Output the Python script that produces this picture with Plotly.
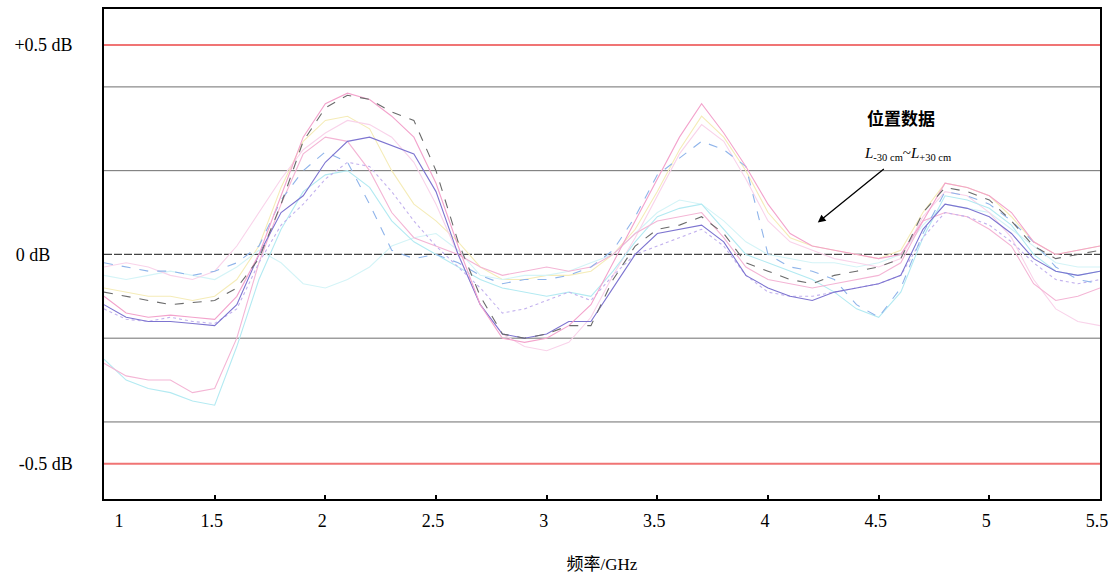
import plotly.graph_objects as go

freq = [1.0, 1.1, 1.2, 1.3, 1.4, 1.5, 1.6, 1.7, 1.8, 1.9,
        2.0, 2.1, 2.2, 2.3, 2.4, 2.5, 2.6, 2.7, 2.8, 2.9,
        3.0, 3.1, 3.2, 3.3, 3.4, 3.5, 3.6, 3.7, 3.8, 3.9,
        4.0, 4.1, 4.2, 4.3, 4.4, 4.5, 4.6, 4.7, 4.8, 4.9,
        5.0, 5.1, 5.2, 5.3, 5.4, 5.5]

s1 = [-0.09, -0.10, -0.11, -0.12, -0.115, -0.11, -0.08, -0.01, 0.12, 0.27,
      0.35, 0.38, 0.37, 0.34, 0.32, 0.20, 0.03, -0.10, -0.19, -0.20,
      -0.19, -0.17, -0.17, -0.06, 0.02, 0.06, 0.07, 0.09, 0.05, -0.02,
      -0.04, -0.06, -0.07, -0.05, -0.04, -0.03, -0.01, 0.10, 0.16, 0.15,
      0.13, 0.08, 0.02, -0.01, 0.00, 0.01]
s2 = [-0.10, -0.14, -0.15, -0.145, -0.15, -0.155, -0.10, 0.00, 0.14, 0.28,
      0.36, 0.385, 0.37, 0.33, 0.28, 0.17, 0.02, -0.12, -0.20, -0.21,
      -0.20, -0.17, -0.12, -0.02, 0.08, 0.18, 0.28, 0.36, 0.29, 0.21,
      0.12, 0.05, 0.02, 0.01, 0.00, -0.01, 0.00, 0.08, 0.17, 0.16,
      0.14, 0.10, 0.03, 0.00, 0.01, 0.02]
s3 = [-0.12, -0.15, -0.16, -0.16, -0.165, -0.17, -0.12, 0.00, 0.10, 0.14,
      0.22, 0.27, 0.28, 0.26, 0.24, 0.15, 0.00, -0.12, -0.19, -0.20,
      -0.19, -0.16, -0.16, -0.08, 0.00, 0.05, 0.06, 0.07, 0.03, -0.05,
      -0.08, -0.10, -0.11, -0.09, -0.08, -0.07, -0.05, 0.06, 0.12, 0.11,
      0.09, 0.05, -0.01, -0.04, -0.05, -0.04]
s4 = [-0.02, -0.03, -0.04, -0.04, -0.05, -0.04, -0.02, 0.02, 0.13, 0.20,
      0.245, 0.22, 0.12, 0.01, -0.01, 0.00, -0.02, -0.05, -0.07, -0.06,
      -0.06, -0.05, -0.03, 0.01, 0.09, 0.19, 0.23, 0.27, 0.25, 0.21,
      0.00, -0.03, -0.04, -0.06, -0.12, -0.15, -0.08, 0.05, 0.15, 0.14,
      0.12, 0.08, 0.03, -0.03, -0.06, -0.07]
s5 = [-0.26, -0.29, -0.30, -0.30, -0.33, -0.32, -0.20, -0.02, 0.12, 0.24,
      0.28, 0.27, 0.20, 0.10, 0.04, 0.02, 0.00, -0.03, -0.05, -0.04,
      -0.03, -0.04, -0.03, 0.00, 0.05, 0.08, 0.09, 0.10, 0.04, -0.03,
      -0.06, -0.07, -0.08, -0.07, -0.06, -0.05, -0.02, 0.08, 0.10, 0.09,
      0.06, 0.02, -0.07, -0.11, -0.10, -0.08]
s6 = [-0.25, -0.30, -0.32, -0.33, -0.35, -0.36, -0.22, -0.06, 0.06, 0.15,
      0.19, 0.20, 0.16, 0.08, 0.03, 0.00, -0.03, -0.06, -0.08, -0.09,
      -0.10, -0.09, -0.10, -0.04, 0.03, 0.09, 0.11, 0.12, 0.06, 0.00,
      -0.02, -0.04, -0.06, -0.09, -0.13, -0.15, -0.09, 0.04, 0.14, 0.13,
      0.11, 0.07, 0.00, -0.04, -0.05, -0.04]
s7 = [-0.03, -0.02, -0.03, -0.05, -0.06, -0.04, 0.02, 0.10, 0.18, 0.25,
      0.29, 0.32, 0.31, 0.28, 0.22, 0.12, 0.00, -0.12, -0.19, -0.22,
      -0.23, -0.21, -0.15, -0.05, 0.04, 0.14, 0.24, 0.31, 0.27, 0.18,
      0.08, 0.03, 0.01, -0.01, -0.02, -0.03, -0.01, 0.09, 0.15, 0.14,
      0.10, 0.04, -0.06, -0.13, -0.16, -0.17]
s8 = [-0.05, -0.06, -0.05, -0.04, -0.05, -0.06, -0.03, 0.01, -0.02, -0.07,
      -0.08, -0.06, -0.03, 0.02, 0.04, 0.05, 0.01, -0.05, -0.06, -0.05,
      -0.05, -0.04, -0.02, 0.00, 0.05, 0.10, 0.13, 0.12, 0.08, 0.03,
      0.00, -0.01, -0.02, -0.02, -0.03, -0.02, 0.00, 0.07, 0.12, 0.11,
      0.10, 0.06, 0.02, -0.02, -0.03, -0.03]
s9 = [-0.08, -0.09, -0.10, -0.10, -0.11, -0.10, -0.06, 0.02, 0.16, 0.27,
      0.32, 0.33, 0.30, 0.20, 0.12, 0.08, 0.03, -0.03, -0.06, -0.06,
      -0.05, -0.05, -0.04, 0.00, 0.06, 0.15, 0.25, 0.33, 0.28, 0.20,
      0.10, 0.04, 0.02, 0.01, 0.00, -0.01, 0.01, 0.10, 0.17, 0.16,
      0.14, 0.09, 0.03, 0.00, 0.01, 0.02]
s10 = [-0.13, -0.155, -0.16, -0.15, -0.16, -0.165, -0.13, -0.02, 0.07, 0.12,
       0.18, 0.22, 0.21, 0.15, 0.08, 0.02, -0.03, -0.08, -0.14, -0.13,
       -0.11, -0.09, -0.11, -0.05, 0.00, 0.02, 0.04, 0.06, 0.02, -0.05,
       -0.09, -0.10, -0.10, -0.09, -0.08, -0.07, -0.05, 0.04, 0.10, 0.09,
       0.07, 0.03, -0.02, -0.06, -0.07, -0.06]

series = [s9, s8, s7, s6, s5, s10, s4, s3, s2, s1]
colors = ["#f5ecb8", "#d4f4f7", "#f9d3ea", "#b3eaf2", "#f4b5d5",
          "#c3b2ee", "#8fb4ea", "#7d74d0", "#f3a3cc", "#6a6a6a"]
dashes = ["solid", "solid", "solid", "solid", "solid",
          "dot", "dash", "solid", "solid", "dash"]

grid_levels = [-0.4, -0.2, 0.2, 0.4]
limit_levels = [-0.5, 0.5]
ytick_vals = [-0.5, 0, 0.5]
ytick_text = ["-0.5 dB", "0 dB\u00a0\u00a0\u00a0\u00a0\u00a0", "+0.5 dB"]
xtick_vals = [1, 1.5, 2, 2.5, 3, 3.5, 4, 4.5, 5, 5.5]
xtick_text = ["\u00a0\u00a0\u00a0\u00a0\u00a0\u00a0\u00a0\u00a01", "1.5", "2", "2.5", "3",
              "3.5", "4", "4.5", "5", "5.5"]

fig = go.Figure()
for s, c, d in zip(series, colors, dashes):
    fig.add_trace(go.Scatter(x=freq, y=s, mode="lines",
                             line=dict(color=c, width=1.1, dash=d),
                             showlegend=False, hoverinfo="skip"))

shapes = []
for g in grid_levels:
    shapes.append(dict(type="line", xref="paper", x0=0, x1=1, yref="y", y0=g, y1=g,
                       line=dict(color="#6e6e6e", width=1), layer="below"))
shapes.append(dict(type="line", xref="paper", x0=0, x1=1, yref="y", y0=0, y1=0,
                   line=dict(color="#444444", width=1.2, dash="8px,2px"), layer="below"))
for g in limit_levels:
    shapes.append(dict(type="line", xref="paper", x0=0, x1=1, yref="y", y0=g, y1=g,
                       line=dict(color="#f07474", width=2), layer="below"))

serif = "Liberation Serif, Noto Sans CJK SC, serif"
fig.update_layout(
    width=1111, height=577,
    margin=dict(l=104, r=11, t=9, b=78),
    paper_bgcolor="white", plot_bgcolor="white",
    shapes=shapes,
    font=dict(family=serif, color="black"),
    xaxis=dict(range=[1.0, 5.5], tickvals=xtick_vals, ticktext=xtick_text,
               ticks="inside", ticklen=4, tickcolor="black", tickwidth=1.5,
               showgrid=False, zeroline=False, showline=True, linecolor="black",
               linewidth=1.5, mirror=True, automargin=False,
               ticklabeloverflow="allow", ticklabelstandoff=5, ticklabelshift=-3,
               tickfont=dict(size=18, family=serif),
               title=dict(text="频率/GHz", font=dict(size=17, family=serif), standoff=28)),
    yaxis=dict(range=[-0.584, 0.586], tickvals=ytick_vals, ticktext=ytick_text,
               ticks="outside", ticklen=26, tickcolor="rgba(0,0,0,0)",
               showgrid=False, zeroline=False, showline=True, linecolor="black",
               linewidth=1.5, mirror=True, automargin=False,
               tickfont=dict(size=18, family=serif)),
    annotations=[
        dict(x=4.6, y=0.326, xref="x", yref="y", text="<b>位置数据</b>", showarrow=False,
             font=dict(size=17, family="Noto Sans CJK SC, sans-serif", color="black")),
        dict(x=4.63, y=0.24, xref="x", yref="y",
             text="<i>L</i><sub>-30 cm</sub>~<i>L</i><sub>+30 cm</sub>", showarrow=False,
             font=dict(size=15, family=serif, color="black")),
        dict(x=4.225, y=0.076, xref="x", yref="y", ax=4.53, ay=0.207, axref="x", ayref="y",
             text="", showarrow=True, arrowhead=2, arrowsize=1.2, arrowwidth=1.3,
             arrowcolor="black"),
    ],
)

fig.write_html("out.html", config={"displayModeBar": False},
               post_script="document.body.style.margin='0';document.body.style.overflow='hidden';")
